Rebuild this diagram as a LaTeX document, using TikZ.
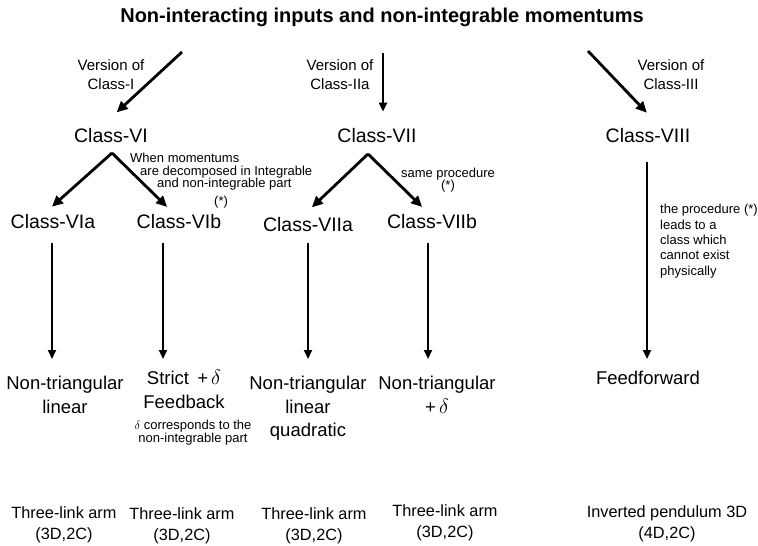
\documentclass[tikz,border=0pt]{standalone}
\usepackage{amsmath}
\usepackage{fontspec}
\setmainfont{Liberation Sans}
\usepackage{tikz}
\usetikzlibrary{positioning, calc, arrows.meta}

\tikzset{
  cls/.style={font=\fontsize{19.5}{22}\selectfont, inner sep=0pt},
  ver/.style={font=\fontsize{15}{19}\selectfont, align=center, inner sep=0pt},
  note/.style={font=\fontsize{13}{12.5}\selectfont, inner sep=0pt},
  res/.style={font=\fontsize{18.5}{23.5}\selectfont, align=center, inner sep=0pt, anchor=north},
  arm/.style={font=\fontsize{16.3}{21}\selectfont, align=center, inner sep=0pt},
  flow/.style={-{Triangle[length=11pt, width=10pt]}, line width=2.8pt},
  drop/.style={-{Triangle[length=9pt, width=8pt]}, line width=2.2pt},
}
\newcommand{\dlt}{{\fontsize{22}{22}\selectfont$\delta$}}

\begin{document}
\begin{tikzpicture}[x=1pt, y=-1pt]
        \useasboundingbox (0,0) rectangle (758,546);

        \node[font=\bfseries\fontsize{20}{24}\selectfont] (title) at (382,17) {Non-interacting inputs and non-integrable momentums};

        \coordinate (topI)   at (182,52);
        \coordinate (topIIa) at (383,53);
        \coordinate (topIII) at (588,51);
        \coordinate (splitVI)  at (112,153);
        \coordinate (splitVII) at (368,154);

        \node[ver] (verI)   at (111,75) {Version of\\Class-I};
        \node[ver] (verIIa) at (340,75) {Version of\\Class-IIa};
        \node[ver] (verIII) at (671,75) {Version of\\Class-III};

        \node[cls] (cVI)   at (111,136) {Class-VI};
        \node[cls] (cVII)  at (377,136) {Class-VII};
        \node[cls] (cVIII) at (648,136) {Class-VIII};

        \node[cls] (cVIa)  at (53,222)  {Class-VIa};
        \node[cls] (cVIb)  at (179,222) {Class-VIb};
        \node[cls] (cVIIa) at (308,225) {Class-VIIa};
        \node[cls] (cVIIb) at (432,222) {Class-VIIb};

        \node[note, anchor=north west, align=left] (noteVI) at (130,153)
          {When momentums\\\hspace{10pt}are decomposed in Integrable\\\hspace{27pt}and non-integrable part\\[5pt]\hspace{84pt}(*)};
        \node[note, align=center] (noteVII) at (448,180) {same procedure\\(*)};
        \node[note, anchor=north west, align=left, font=\fontsize{13}{15.4}\selectfont] (noteVIII) at (660,204)
          {the procedure (*)\\leads to a\\class which\\cannot exist\\physically};

        \node[res] (rVIa)  at (65,376)  {Non-triangular\\linear};
        \node[res] (rVIb)  at (184,370) {Strict \,+\,\dlt\\Feedback};
        \node[res] (rVIIa) at (308,376) {Non-triangular\\linear\\quadratic};
        \node[res] (rVIIb) at (437,376) {Non-triangular\\+\,\dlt};
        \node[res] (rVIII) at (648,371) {Feedforward};
        \node[note, align=center, font=\fontsize{13}{11}\selectfont] (noteDelta) at (193,433)
          {$\delta$ corresponds to the\\non-integrable part};

        \node[arm] (armVIa)  at (64,525)  {Three-link arm\\(3D,2C)};
        \node[arm] (armVIb)  at (182,526) {Three-link arm\\(3D,2C)};
        \node[arm] (armVIIa) at (314,526) {Three-link arm\\(3D,2C)};
        \node[arm] (armVIIb) at (445,523) {Three-link arm\\(3D,2C)};
        \node[arm] (armVIII) at (667,524) {Inverted pendulum 3D\\(4D,2C)};

        % versions
        \draw[flow, shorten >=24pt] (topI)   -- ([xshift=-12pt]cVI.north);
        \draw[drop, shorten >=17pt] (topIIa) -- ([xshift=6pt]cVII.north);
        \draw[flow, shorten >=22pt] (topIII) -- ([xshift=14pt]cVIII.north);

        % splits
        \draw[flow, shorten >=12pt] (splitVI)  -- ([xshift=-10pt]cVIa.north);   %left
        \draw[flow, shorten >=11pt] (splitVI)  -- ([xshift=-4pt]cVIb.north);    %right
        \draw[flow, shorten >=15pt] (splitVII) -- ([xshift=-7pt]cVIIa.north);   %left
        \draw[flow, shorten >=11pt] (splitVII) -- ([xshift=-2pt]cVIIb.north);   %right

        % results
        \draw[drop, shorten <=14pt, shorten >=17pt] ([xshift=-1pt]cVIa.south)  -- ([xshift=-1pt]cVIa.south |- rVIa.north);
        \draw[drop, shorten <=14pt, shorten >=11pt] ([xshift=-16pt]cVIb.south) -- ([xshift=-16pt]cVIb.south |- rVIb.north);
        \draw[drop, shorten <=11pt, shorten >=17pt] (cVIIa.south)              -- (cVIIa.south |- rVIIa.north);
        \draw[drop, shorten <=14pt, shorten >=17pt] ([xshift=-4pt]cVIIb.south) -- ([xshift=-4pt]cVIIb.south |- rVIIb.north);
        \draw[drop, shorten <=19pt, shorten >=12pt] ([xshift=-1pt]cVIII.south) -- ([xshift=-1pt]cVIII.south |- rVIII.north);
      \end{tikzpicture}
\end{document}
